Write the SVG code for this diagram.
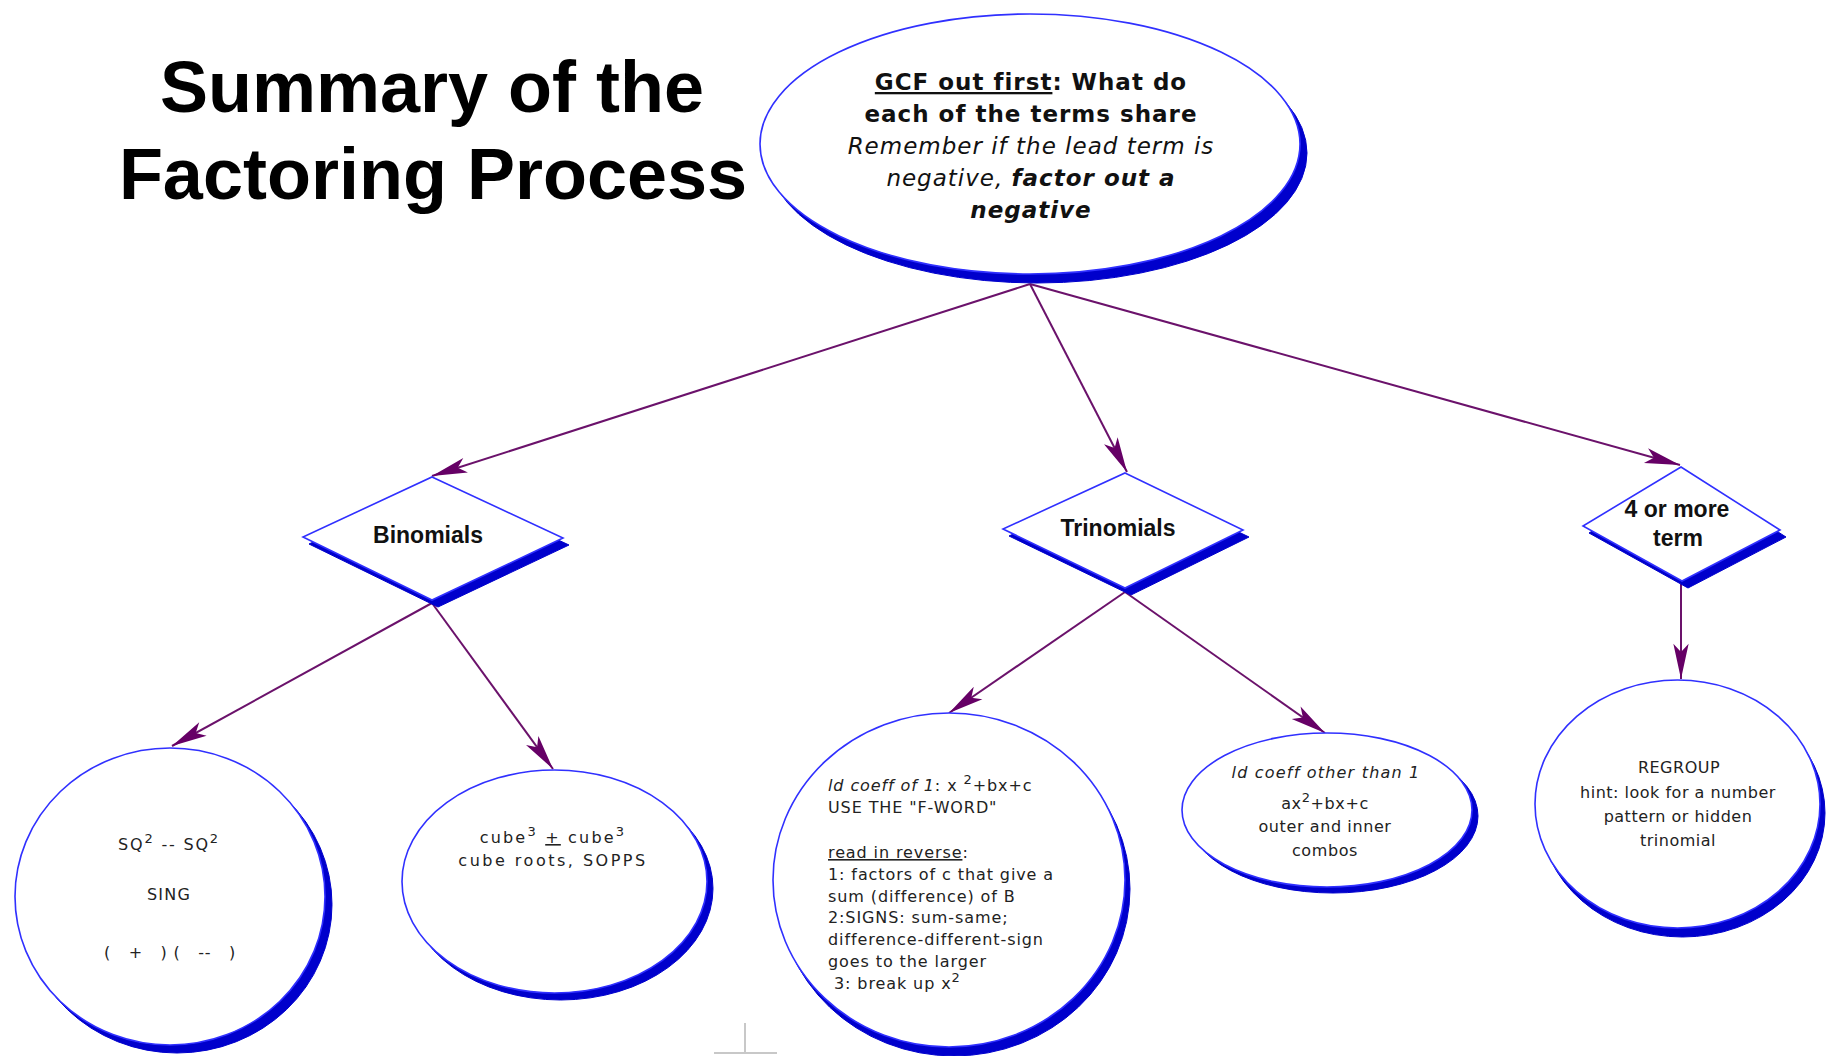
<svg xmlns="http://www.w3.org/2000/svg" width="1826" height="1056" viewBox="0 0 1826 1056">
<style>
.sh{fill:#0000cc;stroke:#0000cc;stroke-width:1}
.nd{fill:#ffffff;stroke:#3030ff;stroke-width:1.6}
.ttl{font-family:"Liberation Sans",Arial,sans-serif;font-weight:bold;font-size:72px;fill:#000;text-anchor:middle}
.top{font-family:"DejaVu Sans",Verdana,sans-serif;font-size:23px;fill:#111;text-anchor:middle;letter-spacing:1px}
.dia{font-family:"Liberation Sans",Arial,sans-serif;font-weight:bold;font-size:23px;fill:#111;text-anchor:middle}
.sm{font-family:"DejaVu Sans",Verdana,sans-serif;font-size:16px;fill:#222}
.c{text-anchor:middle}
.conn{fill:none;stroke:#6b126b;stroke-width:2}
</style>
<defs>
<marker id="ah" markerUnits="userSpaceOnUse" markerWidth="40" markerHeight="20" viewBox="-32 -8 34 16" refX="0" refY="0" orient="auto">
<path d="M0,0 L-30,-6.5 L-23,0 L-30,6.5 Z" fill="#660066"/>
</marker>
</defs>

<g id="title">
<text class="ttl" x="432" y="112">Summary of the</text>
<text class="ttl" x="433" y="199">Factoring Process</text>
</g>

<g id="connectors">
<path class="conn" d="M1030,284 L432,476" marker-end="url(#ah)"/>
<path class="conn" d="M1030,284 L1127,472" marker-end="url(#ah)"/>
<path class="conn" d="M1030,284 L1680,465" marker-end="url(#ah)"/>
<path class="conn" d="M432,603 L172,746" marker-end="url(#ah)"/>
<path class="conn" d="M432,603 L553,769" marker-end="url(#ah)"/>
<path class="conn" d="M1125,592 L949,713" marker-end="url(#ah)"/>
<path class="conn" d="M1125,592 L1325,733" marker-end="url(#ah)"/>
<path class="conn" d="M1681,584 L1681,679" marker-end="url(#ah)"/>
</g>

<g id="gcf">
<ellipse class="sh" cx="1037" cy="153" rx="270" ry="130"/>
<ellipse class="nd" cx="1030" cy="144" rx="270" ry="130"/>
<text class="top" x="1031" y="90" font-weight="bold"><tspan text-decoration="underline">GCF out first</tspan>:  What do</text>
<text class="top" x="1031" y="122" font-weight="bold">each of the terms share</text>
<text class="top" x="1031" y="154" font-style="italic">Remember if the lead term is</text>
<text class="top" x="1031" y="186" font-style="italic">negative, <tspan font-weight="bold">factor out a</tspan></text>
<text class="top" x="1031" y="218" font-style="italic" font-weight="bold">negative</text>
</g>

<g id="binomials">
<polygon class="sh" points="438,484 569,545 438,607 309,544"/>
<polygon class="nd" points="432,477 563,538 432,600 303,537"/>
<text class="dia" x="428" y="543">Binomials</text>
</g>

<g id="trinomials">
<polygon class="sh" points="1131,480 1249,537 1131,595 1009,536"/>
<polygon class="nd" points="1125,473 1243,530 1125,588 1003,529"/>
<text class="dia" x="1118" y="536">Trinomials</text>
</g>

<g id="four">
<polygon class="sh" points="1687,474 1786,537 1688,588 1589,533"/>
<polygon class="nd" points="1681,467 1780,530 1682,581 1583,526"/>
<text class="dia" x="1677" y="517">4 or more</text>
<text class="dia" x="1678" y="546">term</text>
</g>

<g id="sq">
<ellipse class="sh" cx="177" cy="904.5" rx="155" ry="148.5"/>
<ellipse class="nd" cx="170" cy="896.5" rx="155" ry="148.5"/>
<text class="sm c" x="169" y="850" font-size="18" letter-spacing="1.8">SQ<tspan dy="-7" font-size="13">2</tspan><tspan dy="7"> -- SQ</tspan><tspan dy="-7" font-size="13">2</tspan></text>
<text class="sm c" x="169" y="900" font-size="18" letter-spacing="1.2">SING</text>
<text class="sm c" x="170" y="958" font-size="18" letter-spacing="0.8" xml:space="preserve">(   +   ) (   --   )</text>
</g>

<g id="cube">
<ellipse class="sh" cx="560.5" cy="888.5" rx="152.5" ry="111.5"/>
<ellipse class="nd" cx="554.5" cy="881.5" rx="152.5" ry="111.5"/>
<text class="sm c" x="553" y="843" font-size="17" letter-spacing="2.2">cube<tspan dy="-7" font-size="13">3</tspan><tspan dy="7"> </tspan><tspan text-decoration="underline">+</tspan> cube<tspan dy="-7" font-size="13">3</tspan></text>
<text class="sm c" x="553" y="866" font-size="17" letter-spacing="2.5">cube roots, SOPPS</text>
</g>

<g id="ldcoeff1">
<ellipse class="sh" cx="954" cy="889" rx="176" ry="167"/>
<ellipse class="nd" cx="949" cy="880" rx="176" ry="167"/>
<g class="sm" letter-spacing="0.9">
<text x="828" y="791"><tspan font-style="italic">ld coeff of 1</tspan>: x <tspan dy="-7" font-size="13">2</tspan><tspan dy="7">+bx+c</tspan></text>
<text x="828" y="813">USE THE "F-WORD"</text>
<text x="828" y="858"><tspan text-decoration="underline">read in reverse</tspan>:</text>
<text x="828" y="880">1: factors of c that give a</text>
<text x="828" y="902">sum (difference) of  B</text>
<text x="828" y="923">2:SIGNS: sum-same;</text>
<text x="828" y="945">difference-different-sign</text>
<text x="828" y="967">goes to the larger</text>
<text x="828" y="989" xml:space="preserve"> 3: break up x<tspan dy="-7" font-size="13">2</tspan></text>
</g>
</g>

<g id="ldcoeffother">
<ellipse class="sh" cx="1333" cy="816" rx="145" ry="77"/>
<ellipse class="nd" cx="1327" cy="810" rx="145" ry="77"/>
<g class="sm c" font-size="17" letter-spacing="0.6">
<text x="1326" y="778" font-style="italic" letter-spacing="1.2">ld coeff other than  1</text>
<text x="1325" y="809">ax<tspan dy="-7" font-size="13">2</tspan><tspan dy="7">+bx+c</tspan></text>
<text x="1325" y="832">outer and inner</text>
<text x="1325" y="856">combos</text>
</g>
</g>

<g id="regroup">
<ellipse class="sh" cx="1682.5" cy="813" rx="142.5" ry="124"/>
<ellipse class="nd" cx="1677.5" cy="804" rx="142.5" ry="124"/>
<g class="sm c" font-size="15.5" letter-spacing="0.5">
<text x="1679" y="773">REGROUP</text>
<text x="1678" y="798">hint: look for a number</text>
<text x="1678" y="822">pattern or hidden</text>
<text x="1678" y="846">trinomial</text>
</g>
</g>

<g id="mark" stroke="#c8c8c8" stroke-width="2">
<line x1="745" y1="1023" x2="745" y2="1053"/>
<line x1="714" y1="1053" x2="777" y2="1053"/>
</g>
</svg>
